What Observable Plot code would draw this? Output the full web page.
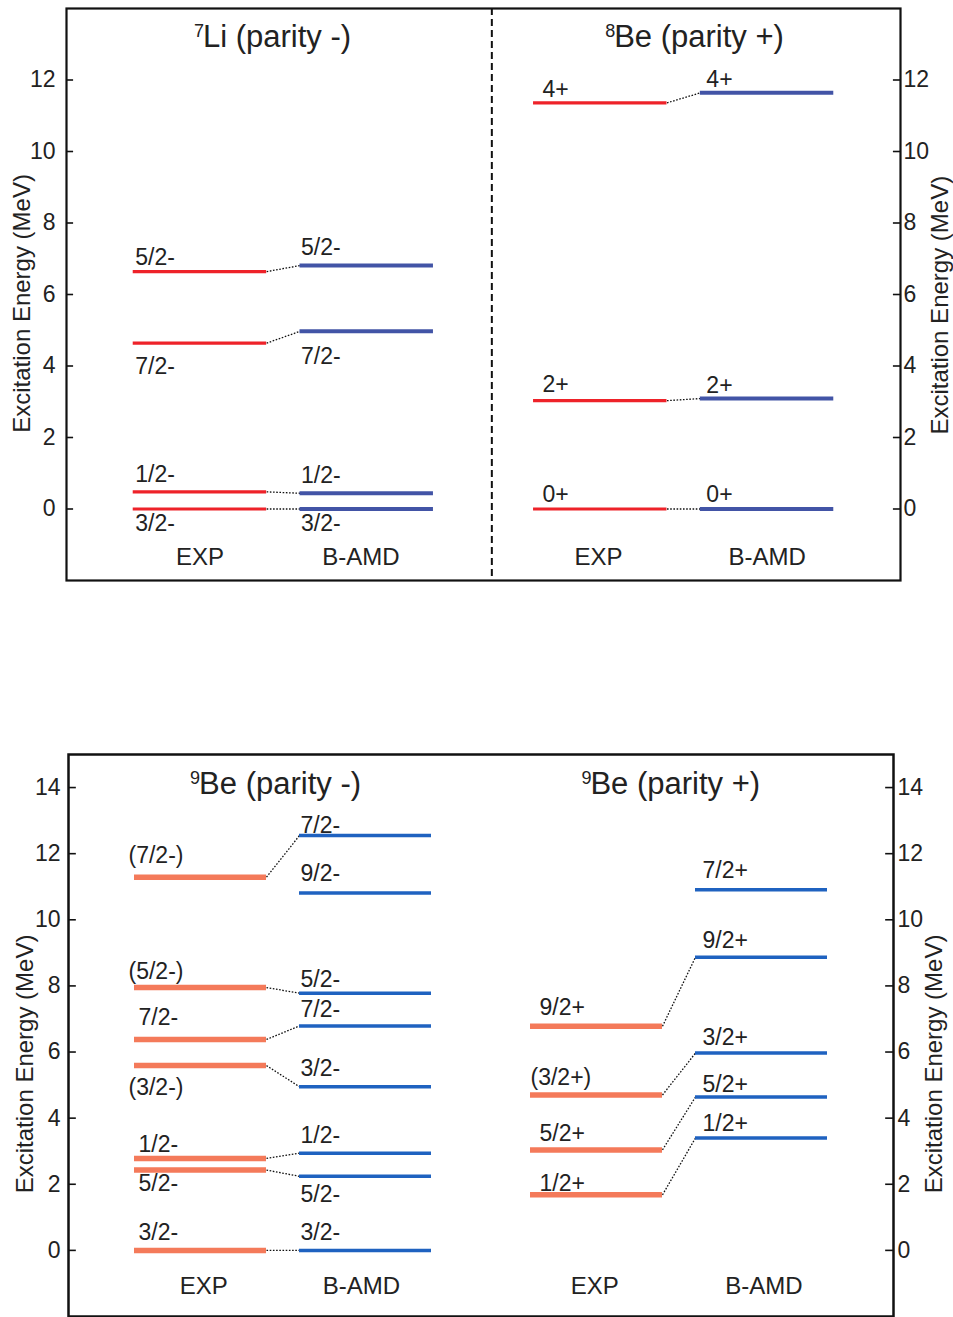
<!DOCTYPE html>
<html><head><meta charset="utf-8">
<script src="https://cdn.jsdelivr.net/npm/d3@7"></script>
<script src="https://cdn.jsdelivr.net/npm/@observablehq/plot@0.6"></script>
<style>
body{margin:0;background:#fff;}
#chart svg{display:block;}
</style></head><body><div id="chart"></div>
<script>
// ---------------- data ----------------
const yTitle = "Excitation Energy (MeV)";
const colLabels = ["EXP", "B-AMD"];
const ticksTop = [0, 2, 4, 6, 8, 10, 12];
const ticksBottom = [0, 2, 4, 6, 8, 10, 12, 14];

// 7Li (parity -)
const li7ExpLabels = ["3/2-", "1/2-", "7/2-", "5/2-"];
const li7ExpE = [0, 0.48, 4.64, 6.64];
const li7AmdLabels = ["3/2-", "1/2-", "7/2-", "5/2-"];
const li7AmdE = [0, 0.44, 4.97, 6.81];
const li7Links = [[0, 0], [1, 1], [2, 2], [3, 3]];

// 8Be (parity +)
const be8ExpLabels = ["0+", "2+", "4+"];
const be8ExpE = [0, 3.03, 11.36];
const be8AmdLabels = ["0+", "2+", "4+"];
const be8AmdE = [0, 3.09, 11.64];
const be8Links = [[0, 0], [1, 1], [2, 2]];

// 9Be (parity -)
const be9mExpLabels = ["3/2-", "5/2-", "1/2-", "(3/2-)", "7/2-", "(5/2-)", "(7/2-)"];
const be9mExpE = [0, 2.43, 2.78, 5.59, 6.38, 7.95, 11.29];
const be9mAmdLabels = ["3/2-", "5/2-", "1/2-", "3/2-", "7/2-", "5/2-", "9/2-", "7/2-"];
const be9mAmdE = [0, 2.24, 2.94, 4.95, 6.79, 7.78, 10.81, 12.55];
const be9mLinks = [[0, 0], [1, 1], [2, 2], [3, 3], [4, 4], [5, 5], [6, 7]];

// 9Be (parity +)
const be9pExpLabels = ["1/2+", "5/2+", "(3/2+)", "9/2+"];
const be9pExpE = [1.68, 3.04, 4.70, 6.78];
const be9pAmdLabels = ["1/2+", "5/2+", "3/2+", "9/2+", "7/2+"];
const be9pAmdE = [3.40, 4.64, 5.97, 8.87, 10.91];
const be9pLinks = [[0, 0], [1, 1], [2, 2], [3, 3]];

const titles = [
  {mass: "7", body: "Li (parity -)"},
  {mass: "8", body: "Be (parity +)"},
  {mass: "9", body: "Be (parity -)"},
  {mass: "9", body: "Be (parity +)"}
];

// ---------------- layout (pixel offsets of labels) ----------------
const li7ExpDy = [15, -17, 24, -14];
const li7AmdDy = [15, -18, 25, -18];
const be8ExpDy = [-14, -16, -13];
const be8AmdDy = [-14, -13, -13];
const be9mExpDy = [-18, 14, -14, 22, -22, -16, -22];
const be9mAmdDy = [-18, 18, -18, -18, -16, -14, -19, -10];
const be9pExpDy = [-11, -16, -17, -19];
const be9pAmdDy = [-14, -12, -15, -17, -19];

const colX = [1.6, 3.6, 6.4, 8.4];
const halfW = 0.8;
const FONT = "'Liberation Sans', Arial, Helvetica, sans-serif";

function makePanel(p) {
  const marks = [];
  marks.push(Plot.frame({stroke: "#111", strokeWidth: p.frameW}));
  if (p.divider !== undefined) marks.push(Plot.ruleX([p.divider], {stroke: "#111", strokeWidth: 2, strokeDasharray: "7,4"}));
  marks.push(Plot.ruleY(p.ticks, {x1: 0, x2: p.tickLen, stroke: "#111", strokeWidth: 1.6}));
  marks.push(Plot.ruleY(p.ticks, {x1: 10 - p.tickLen, x2: 10, stroke: "#111", strokeWidth: 1.6}));
  marks.push(Plot.axisY(p.ticks, {anchor: "left", tickSize: 0, tickPadding: p.padL, fontSize: 23, label: null}));
  marks.push(Plot.axisY(p.ticks, {anchor: "right", tickSize: 0, tickPadding: p.padR, fontSize: 23, label: null}));
  marks.push(Plot.text([p.yTitleL], {y: d => d, frameAnchor: "left", dx: -p.yTitleDxL, rotate: -90, textAnchor: "middle", lineAnchor: "middle", text: () => yTitle, fontSize: 24, fill: "#222"}));
  marks.push(Plot.text([p.yTitleR], {y: d => d, frameAnchor: "right", dx: p.yTitleDxR, rotate: -90, textAnchor: "middle", lineAnchor: "middle", text: () => yTitle, fontSize: 24, fill: "#222"}));

  for (const g of p.groups) {
    const cE = colX[g.cols[0]], cA = colX[g.cols[1]];
    const xE0 = cE - halfW, xE1 = cE + halfW, xA0 = cA - halfW, xA1 = cA + halfW;
    const expRows = g.expE.map((e, i) => ({e, label: g.expL[i], dy: g.expDy[i]}));
    const amdRows = g.amdE.map((e, i) => ({e, label: g.amdL[i], dy: g.amdDy[i]}));
    marks.push(Plot.link(g.links, {
      x1: xE1, y1: d => g.expE[d[0]], x2: xA0, y2: d => g.amdE[d[1]],
      stroke: "#111", strokeWidth: 1.3, strokeDasharray: "1.6,1.6"
    }));
    marks.push(Plot.ruleY(expRows, {y: "e", x1: xE0, x2: xE1, stroke: p.expColor, strokeWidth: p.expW}));
    marks.push(Plot.ruleY(amdRows, {y: "e", x1: xA0, x2: xA1, stroke: p.amdColor, strokeWidth: p.amdW}));
    for (const r of expRows) {
      const paren = r.label.startsWith("(");
      marks.push(Plot.text([r], {x: xE0, y: "e", text: "label", textAnchor: "start", fontSize: 23, fill: "#222",
        dx: paren ? g.expDxParen : g.expDx, dy: r.dy}));
    }
    for (const r of amdRows) {
      marks.push(Plot.text([r], {x: xA0, y: "e", text: "label", textAnchor: "start", fontSize: 23, fill: "#222",
        dx: g.amdDx, dy: r.dy}));
    }
    marks.push(Plot.text([g.title], {x: g.titleX, y: p.titleY, text: d => d.mass + d.body, fontSize: 31, fill: "#222"}));
    marks.push(Plot.text(colLabels, {x: (d, i) => colX[g.cols[i]] + g.colDx[i], y: p.colLabelY, text: d => d, fontSize: 24, fill: "#222"}));
  }

  const svg = Plot.plot({
    width: 953, height: p.height,
    marginTop: p.mt, marginBottom: p.mb, marginLeft: p.ml, marginRight: p.mr,
    x: {domain: [0, 10], axis: null},
    y: {domain: p.yDomain, axis: null},
    style: {fontFamily: FONT, color: "#222", background: "white"},
    marks
  });

  const ns = "http://www.w3.org/2000/svg";
  for (const t of svg.querySelectorAll("text")) {
    const m = titles.find(tt => tt.mass + tt.body === t.textContent);
    if (m) {
      t.textContent = "";
      const s1 = document.createElementNS(ns, "tspan");
      s1.setAttribute("font-size", "18");
      s1.setAttribute("dy", "-10");
      s1.textContent = m.mass;
      const s2 = document.createElementNS(ns, "tspan");
      s2.setAttribute("dy", "10");
      s2.setAttribute("dx", "-1");
      s2.textContent = m.body;
      t.appendChild(s1); t.appendChild(s2);
    }
  }
  return svg;
}

const topPanel = makePanel({
  height: 640, mt: 8, mb: 60, ml: 66, mr: 53, yDomain: [-2, 14],
  ticks: ticksTop, tickLen: 0.085, padL: 11, padR: 3, frameW: 2.2,
  yTitleL: 5.75, yTitleDxL: 44, yTitleR: 5.7, yTitleDxR: 40,
  divider: 5.1, titleY: 13.2, colLabelY: -1.34,
  expColor: "#ee2229", amdColor: "#4254a6", expW: 3.2, amdW: 4,
  groups: [
    {cols: [0, 1], expE: li7ExpE, expL: li7ExpLabels, expDy: li7ExpDy, amdE: li7AmdE, amdL: li7AmdLabels, amdDy: li7AmdDy,
     links: li7Links, expDx: 2, expDxParen: -6, amdDx: 1, title: titles[0], titleX: 2.47, colDx: [0, -0.07]},
    {cols: [2, 3], expE: be8ExpE, expL: be8ExpLabels, expDy: be8ExpDy, amdE: be8AmdE, amdL: be8AmdLabels, amdDy: be8AmdDy,
     links: be8Links, expDx: 9, expDxParen: 0, amdDx: 6, title: titles[1], titleX: 7.53, colDx: [-0.02, 0]}
  ]
});

const bottomPanel = makePanel({
  height: 677, mt: 114, mb: 1, ml: 68, mr: 60, yDomain: [-2, 15],
  ticks: ticksBottom, tickLen: 0.095, padL: 8, padR: 4, frameW: 2.5,
  yTitleL: 5.64, yTitleDxL: 43, yTitleR: 5.64, yTitleDxR: 41,
  titleY: 14.1, colLabelY: -1.08,
  expColor: "#f47a5a", amdColor: "#1f62c0", expW: 5.5, amdW: 3.5,
  groups: [
    {cols: [0, 1], expE: be9mExpE, expL: be9mExpLabels, expDy: be9mExpDy, amdE: be9mAmdE, amdL: be9mAmdLabels, amdDy: be9mAmdDy,
     links: be9mLinks, expDx: 4, expDxParen: -6, amdDx: 1, title: titles[2], titleX: 2.51, colDx: [0.04, -0.05]},
    {cols: [2, 3], expE: be9pExpE, expL: be9pExpLabels, expDy: be9pExpDy, amdE: be9pAmdE, amdL: be9pAmdLabels, amdDy: be9pAmdDy,
     links: be9pLinks, expDx: 9, expDxParen: 0, amdDx: 7, title: titles[3], titleX: 7.30, colDx: [-0.02, 0.03]}
  ]
});

document.getElementById("chart").append(topPanel, bottomPanel);
</script>
</body></html>
